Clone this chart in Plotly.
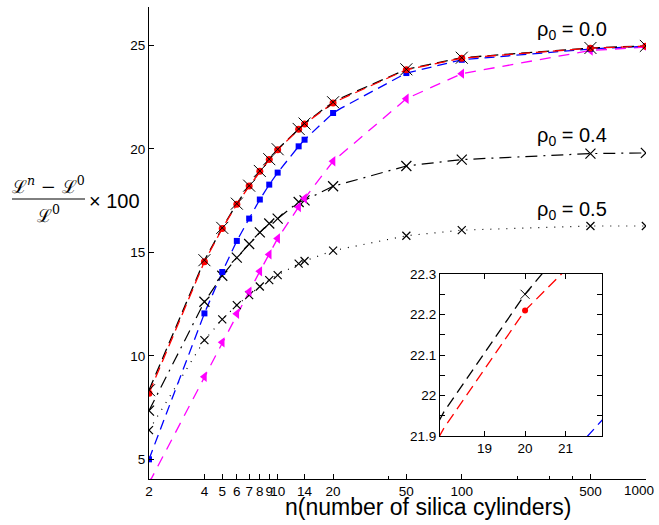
import math
import plotly.graph_objects as go

# ---------------- data ----------------
n_marks = [2, 4, 5, 6, 7, 8, 9, 10, 13, 14, 20, 50, 100, 500, 1000]

red_rho00 = [8.19, 14.55, 16.15, 17.32, 18.20, 18.91, 19.48, 19.96, 20.94, 21.20, 22.21, 23.82, 24.38, 24.86, 24.96]
black_rho00 = [8.34, 14.62, 16.18, 17.35, 18.22, 18.93, 19.50, 19.98, 20.96, 21.22, 22.25, 23.84, 24.40, 24.87, 24.97]
blue_rho00 = [5.00, 12.05, 14.05, 15.55, 16.63, 17.55, 18.27, 18.85, 20.12, 20.44, 21.73, 23.66, 24.30, 24.82, 24.96]
magenta_rho00 = [3.85, 8.99, 10.65, 12.03, 13.10, 14.08, 14.90, 15.67, 17.19, 17.60, 19.40, 22.42, 23.63, 24.75, 24.91]
black_rho04 = [7.35, 12.61, 13.87, 14.74, 15.40, 15.96, 16.39, 16.63, 17.43, 17.51, 18.19, 19.17, 19.48, 19.77, 19.80]
black_rho05 = [6.41, 10.76, 11.76, 12.45, 12.93, 13.35, 13.66, 13.90, 14.45, 14.58, 15.08, 15.80, 16.07, 16.27, 16.27]

# extra curve points (curves only, no markers)
red_extra_n, red_extra_y = [18, 21], [21.92, 22.31]
black_extra_n, black_extra_y = [18, 21], [21.96, 22.37]
blue_extra_n, blue_extra_y = [22], [21.95]

x_tickvals = [2, 4, 5, 6, 7, 8, 9, 10, 14, 20, 50, 100, 500, 1000]
x_ticktext = ["2", "4", "5", "6", "7", "8", "9", "10", "14", "20", "50", "100", "500", ""]
x_last_label = "1000"
x_minor_ticks = [40, 200, 300, 400]
y_tickvals = [5, 10, 15, 20, 25]
inset_x_ticks = [19, 20, 21]
inset_y_ticks = [21.9, 22.0, 22.1, 22.2, 22.3]
inset_y_labels = ["21.9", "22", "22.1", "22.2", "22.3"]

# ---------------- figure ----------------
W, H = 659, 525
ML, MR, MT, MB = 149, 13, 7, 46
PW, PH = W - ML - MR, H - MT - MB
FONT = "Liberation Sans, Arial, sans-serif"


def px(x):
    return (x - ML) / PW


def py(y):
    return (MT + PH - y) / PH


series = [
    # (values, extra_n, extra_y, color, dash, symbol, size, inset_size, line_width)
    (black_rho05, [], [], "black", "1px,7px", "x-thin", 8, 7, 1.2),
    (black_rho04, [], [], "black", "12px,6px,2px,6px", "x-thin", 10, 8, 1.2),
    (magenta_rho00, [], [], "#ff00ff", "11px,8px", "triangle-left", 9, 7, 1.3),
    (blue_rho00, blue_extra_n, blue_extra_y, "#0000ff", "10px,6px", "square", 6, 5, 1.3),
    (black_rho00, black_extra_n, black_extra_y, "black", "11px,6px", None, 11, 9, 1.3),
    (red_rho00, red_extra_n, red_extra_y, "#ff0000", "11px,6px", "circle", 7, 6, 1.3),
]

fig = go.Figure()
for xa, ya, inset in [("x", "y", False), ("x2", "y2", True)]:
    for vals, en, ey, col, dash, sym, sz, isz, lw in series:
        pts = sorted(list(zip(n_marks, vals)) + list(zip(en, ey)))
        fig.add_trace(go.Scatter(
            x=[p[0] for p in pts], y=[p[1] for p in pts], mode="lines",
            line=dict(color=col, width=lw, dash=dash),
            xaxis=xa, yaxis=ya, showlegend=False, hoverinfo="skip"))
    for vals, en, ey, col, dash, sym, sz, isz, lw in series:
        if sym is None:
            continue
        s = isz if inset else sz
        if sym == "x-thin":
            mk = dict(symbol="x-thin", size=s, line=dict(color=col, width=1.2))
        else:
            mk = dict(symbol=sym, size=s, color=col, line=dict(width=0))
        fig.add_trace(go.Scatter(x=n_marks, y=vals, mode="markers", marker=mk,
                                 xaxis=xa, yaxis=ya, showlegend=False, hoverinfo="skip"))
    # black X markers of rho0=0.0 drawn over the red dots
    s = 9 if inset else 12
    fig.add_trace(go.Scatter(x=n_marks, y=black_rho00, mode="markers",
                             marker=dict(symbol="x-thin", size=s, line=dict(color="black", width=1.0)),
                             xaxis=xa, yaxis=ya, showlegend=False, hoverinfo="skip"))

axis_common = dict(showline=True, linecolor="black", linewidth=1, ticks="inside",
                   tickcolor="black", ticklen=5, showgrid=False, zeroline=False,
                   automargin=False, tickangle=0, ticklabeloverflow="allow",
                   tickfont=dict(family=FONT, size=13.5, color="black"))

fig.update_layout(
    width=W, height=H,
    margin=dict(l=ML, r=MR, t=MT, b=MB, autoexpand=False),
    paper_bgcolor="white", plot_bgcolor="white",
    xaxis=dict(type="log", range=[math.log10(2), 3.0008], domain=[0, 1],
               tickmode="array", tickvals=x_tickvals, ticktext=x_ticktext,
               minor=dict(tickmode="array", tickvals=x_minor_ticks, ticks="inside",
                          ticklen=3, tickcolor="black", showgrid=False),
               anchor="y", **axis_common),
    yaxis=dict(range=[4.05, 26.85], domain=[0, 1], tickmode="array", tickvals=y_tickvals,
               anchor="x", **axis_common),
    xaxis2=dict(range=[17.9, 21.9], domain=[px(440), px(602)], anchor="y2",
                tickmode="array", tickvals=inset_x_ticks, mirror="ticks", **axis_common),
    yaxis2=dict(range=[21.9, 22.3], domain=[py(436), py(274)], anchor="x2",
                tickmode="array", tickvals=inset_y_ticks, ticktext=inset_y_labels,
                minor=dict(dtick=0.05, tick0=21.9, ticks="inside", ticklen=5,
                           tickcolor="black", showgrid=False),
                mirror="ticks", **axis_common),
)

ann = []
for label, yy in [("ρ<sub>0</sub> = 0.0", 31), ("ρ<sub>0</sub> = 0.4", 136), ("ρ<sub>0</sub> = 0.5", 211)]:
    ann.append(dict(text=label, x=px(572), y=py(yy), xref="paper", yref="paper",
                    showarrow=False, font=dict(family=FONT, size=20, color="black"),
                    xanchor="center", yanchor="middle"))
# last x tick label, nudged left so it stays inside the picture
ann.append(dict(text=x_last_label, x=px(656), y=py(490), xref="paper", yref="paper",
                showarrow=False, font=dict(family=FONT, size=13.5, color="black"),
                xanchor="right", yanchor="middle"))
ann.append(dict(text="n(number of silica cylinders)", x=px(428), y=py(507), xref="paper",
                yref="paper", showarrow=False, font=dict(family=FONT, size=23, color="black"),
                xanchor="center", yanchor="middle"))
# y-axis label as a fraction
LF = "DejaVu Serif, serif"
ann.append(dict(text="ℒ<sup><i>n</i></sup> − ℒ<sup>0</sup>", x=px(48), y=py(185),
                xref="paper", yref="paper", showarrow=False,
                font=dict(family=LF, size=18, color="black"), xanchor="center", yanchor="middle"))
ann.append(dict(text="ℒ<sup>0</sup>", x=px(48), y=py(214),
                xref="paper", yref="paper", showarrow=False,
                font=dict(family=LF, size=18, color="black"), xanchor="center", yanchor="middle"))
ann.append(dict(text="× 100", x=px(87), y=py(201), xref="paper", yref="paper",
                showarrow=False, font=dict(family=FONT, size=20, color="black"),
                xanchor="left", yanchor="middle"))
fig.update_layout(annotations=ann,
                  shapes=[dict(type="line", xref="paper", yref="paper",
                               x0=px(12), x1=px(85), y0=py(199), y1=py(199),
                               line=dict(color="black", width=1))])

fig.write_html("out.html", config={"displayModeBar": False},
               post_script="document.body.style.margin='0px';")
